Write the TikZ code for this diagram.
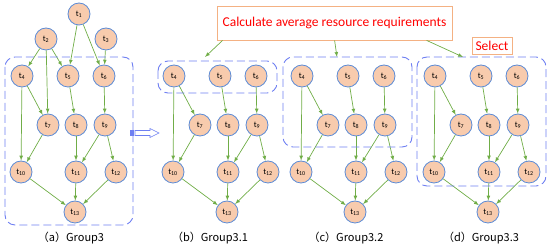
\documentclass[tikz,border=0pt]{standalone}
\usepackage{fontspec}
\setmainfont{Carlito}
\newfontfamily\cjk{Noto Sans CJK SC}
\definecolor{taskfill}{HTML}{F8CBAD}
\definecolor{taskline}{HTML}{5B8BD6}
\definecolor{grpline}{HTML}{6E7FF2}
\definecolor{edgegreen}{HTML}{70AD47}
\definecolor{noteline}{HTML}{F4B183}
\begin{document}
\begin{tikzpicture}[x=1pt,y=-1pt,>=latex,
    task/.style={circle, draw=taskline, fill=taskfill, line width=0.8pt, minimum size=22pt, inner sep=0pt, font=\fontsize{8.5}{8.5}\selectfont},
    grp/.style={draw=grpline, line width=0.9pt, dash pattern=on 8pt off 4pt, rounded corners=10pt},
    edge/.style={->, draw=edgegreen, line width=0.7pt},
    note/.style={draw=noteline, line width=0.8pt, fill=white, text=red, inner sep=0pt}]
  \useasboundingbox (0,0) rectangle (550,245);
  % top tasks of group 3
  \node[task] (t1) at (79,14) {t\textsubscript{1}};
  \node[task] (t2) at (46,39) {t\textsubscript{2}};
  \node[task] (t3) at (106,39) {t\textsubscript{3}};
  % four copies of the lower graph
  \foreach \p/\dx in {a/0,b/152,c/280,d/413} {
    \foreach \n/\x/\y in {4/22/76,5/68/76,6/104/76,7/48/125,8/76/125,9/105/125,10/21/172,11/76/172,12/116/172,13/75/212} {
      \node[task] (\p\n) at (\x+\dx,\y) {t\textsubscript{\n}};
      }
    \foreach \u/\v in {4/7,4/10,5/8,6/9,7/10,8/11,9/11,9/12,10/13,11/13,12/13} {
      \draw[edge] (\p\u) -- (\p\v);
      }
    }
  \draw[edge] (t1) -- (a5);
  \draw[edge] (t1) -- (a6);
  \draw[edge] (t2) -- (a4);
  \draw[edge] (t2) -- (a7);
  \draw[edge] (t2) -- (a5);
  \draw[edge] (t3) -- (a6);
  % groups
  \draw[grp] (5,57) rectangle (133,225);
  \draw[grp] (158,61) rectangle (277,93);
  \draw[grp] (283,57) rectangle (412,147);
  \draw[grp] (417,57) rectangle (546,186);
  % striped arrow
  \draw[grpline, line width=0.6pt, fill=white] (130.5,130.5) rectangle (131.5,135.5)
    (132.5,130.5) rectangle (133.5,135.5)
    (135,130.5) -- (150,130.5) -- (150,128.5) -- (159,133) -- (150,137.5) -- (150,135.5) -- (135,135.5) -- cycle;
  % notes
  \node[note, minimum width=235pt, minimum height=34pt, font=\fontsize{13.5}{15}\selectfont] (avg) at (334.5,23) {Calculate average resource requirements};
  \node[note, minimum width=40pt, minimum height=17pt, font=\fontsize{13.5}{15}\selectfont] (sel) at (492,45.5) {Select};
  \coordinate (gb) at (205,57);
  \coordinate (gc) at (337,57);
  \coordinate (gd) at (463,57);
  \draw[edge] ([xshift=6pt]avg.south west) -- (gb);
  \draw[edge] ([xshift=118pt]avg.south west) -- (gc);
  \draw[edge] ([xshift=210pt]avg.south west) -- (gd);
  % captions
  \foreach \x/\t in {71/（a）Group3,210/（b）Group3.1,346/（c）Group3.2,481/（d）Group3.3} {
    \node[font=\cjk\fontsize{11}{13}\selectfont] at (\x,238) {\t};
    }
\end{tikzpicture}
\end{document}
